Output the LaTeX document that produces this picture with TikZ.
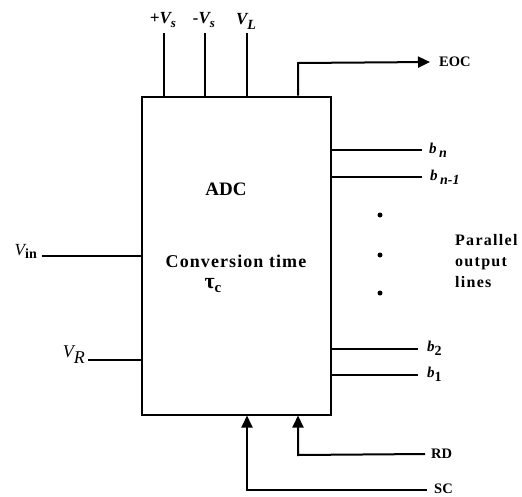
\documentclass[tikz,border=0pt]{standalone}
\usepackage{fontspec}
\setmainfont{Liberation Serif}
\usetikzlibrary{arrows.meta}
\begin{document}
\begin{tikzpicture}[x=1pt,y=-1pt,
  wire/.style={line width=2pt},
  arr/.style={wire,-{Triangle[length=12pt,width=11pt]}},
  lbl/.style={inner sep=0pt, font=\bfseries\fontsize{14.5}{16}\selectfont},
  vlbl/.style={inner sep=0pt, font=\bfseries\itshape\fontsize{17}{19}\selectfont},
  blbl/.style={inner sep=0pt, anchor=west, font=\bfseries\itshape\fontsize{15}{17}\selectfont},
  dotn/.style={circle, fill=black, inner sep=0pt, minimum size=5pt},
  big/.style={inner sep=0pt, font=\bfseries\fontsize{19}{22}\selectfont}]
\useasboundingbox (0,0) rectangle (522,496);
% main box
\node[draw, line width=2pt, minimum width=189pt, minimum height=318pt, inner sep=0pt] (adc) at (236.5,255.5) {};
\node[big] (title) at (226,189) {ADC};
\node[big, font=\bfseries\fontsize{18}{21}\selectfont\addfontfeature{LetterSpace=6}] (conv) at (236,261) {Conversion time};
\node[inner sep=0pt] (tau) at (213,286) {\bfseries\fontsize{22}{24}\selectfont τ\raisebox{-4pt}{\fontsize{15}{15}\selectfont c}};
% top pins
\coordinate (pvsT) at (164,33);
\coordinate (mvsT) at (205,33);
\coordinate (vlT) at (247,33);
\draw[wire] (pvsT |- adc.north) -- (pvsT);
\draw[wire] (mvsT |- adc.north) -- (mvsT);
\draw[wire] (vlT |- adc.north) -- (vlT);
\node[vlbl] (pvsL) at (163,20) {+V\raisebox{-4pt}{\fontsize{13}{13}\selectfont s}};
\node[vlbl] (mvsL) at (204,20) {-V\raisebox{-4pt}{\fontsize{13}{13}\selectfont s}};
\node[vlbl] (vlL) at (246,21) {V\raisebox{-5pt}{\fontsize{14}{14}\selectfont L}};
% EOC
\coordinate (eocC) at (298,63);
\node[lbl, anchor=west] (eoc) at (439,62) {EOC};
\draw[arr] (eocC |- adc.north) -- (eocC) -- ([xshift=-9pt]eoc.west);
% outputs
\coordinate (bnE) at (422,150);
\coordinate (bn1E) at (422,177);
\coordinate (b2E) at (418,349);
\coordinate (b1E) at (418,375);
\draw[wire] (bnE -| adc.east) -- (bnE);
\draw[wire] (bn1E -| adc.east) -- (bn1E);
\draw[wire] (b2E -| adc.east) -- (b2E);
\draw[wire] (b1E -| adc.east) -- (b1E);
\node[blbl] (bn) at (429,150) {b\,\raisebox{-4pt}{\fontsize{14}{14}\selectfont n}};
\node[blbl] (bn1) at (430,177) {b\,\raisebox{-4pt}{\fontsize{14}{14}\selectfont n-1}};
\node[blbl] (b2) at (427,348) {b\raisebox{-4pt}{\upshape\fontsize{14}{14}\selectfont 2}};
\node[blbl] (b1) at (427,374) {b\raisebox{-4pt}{\upshape\fontsize{14}{14}\selectfont 1}};
\node[dotn] (d1) at (380,215) {};
\node[dotn] (d2) at (380,255) {};
\node[dotn] (d3) at (380,293) {};
\node[inner sep=0pt, anchor=west, align=left, font=\bfseries\fontsize{16}{21}\selectfont\addfontfeature{LetterSpace=8}] (par) at (455,261) {Parallel\\output\\lines};
% inputs
\coordinate (vinS) at (42,256);
\coordinate (vrS) at (88,360);
\draw[wire] (vinS) -- (vinS -| adc.west);
\draw[wire] (vrS) -- (vrS -| adc.west);
\node[inner sep=0pt, anchor=east] (vin) at (37,251) {\fontsize{17}{19}\selectfont\itshape V\raisebox{-3pt}{\upshape\bfseries\fontsize{14}{14}\selectfont in}};
\node[inner sep=0pt, anchor=east] (vr) at (85,355) {\fontsize{18}{19}\selectfont\itshape V\raisebox{-6pt}{\fontsize{18}{18}\selectfont R}};
% bottom control
\coordinate (rdC) at (298,455);
\coordinate (scC) at (247,490);
\node[lbl, anchor=west] (rd) at (431,454) {RD};
\node[lbl, anchor=west] (sc) at (434,488.5) {SC};
\draw[arr] ([xshift=-6pt]rd.west) -- (rdC) -- (rdC |- adc.south);
\draw[arr] ([xshift=-7pt,yshift=-1.5pt]sc.west) -- (scC) -- (scC |- adc.south);
\end{tikzpicture}
\end{document}
